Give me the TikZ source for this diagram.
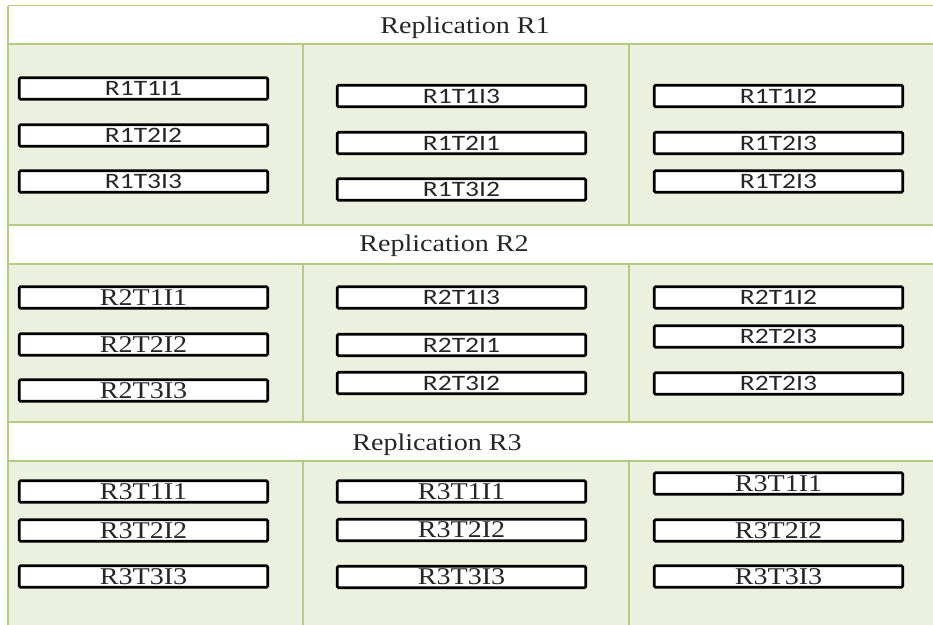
\documentclass[tikz,border=0pt]{standalone}
\usepackage{fontspec}
\usepackage{graphicx}
\newfontfamily\sansf{Carlito}
\newfontfamily\seriff{Liberation Serif}
\definecolor{gfill}{HTML}{EBF1DE}
\definecolor{gline}{HTML}{B3CC82}
\definecolor{txt}{HTML}{262626}
\tikzset{
  cell/.style={draw=black, line width=2.6pt, fill=white, minimum width=248.5pt,
    minimum height=21.5pt, inner sep=0pt, rounded corners=1.2pt, text=txt},
  sanscell/.style={cell, font=\sansf\fontsize{22}{24}\selectfont},
  serifcell/.style={cell, font=\seriff\fontsize{24}{26}\selectfont},
  header/.style={anchor=base, text=txt, inner sep=0pt, font=\seriff\fontsize{24}{26}\selectfont},
  gridline/.style={draw=gline, line width=1.6pt}
}
\newcommand{\sw}[1]{\scalebox{1.25}[1]{#1}}
\newcommand{\rw}[1]{\scalebox{1.17}[1]{#1}}
\begin{document}
\begin{tikzpicture}[x=1pt,y=-1pt]
\useasboundingbox (0,0) rectangle (933,624);
\clip (0,0) rectangle (933,624);
\fill[white] (0,0) rectangle (933,624);
% panels
\fill[gfill] (8,44) rectangle (940,225);
\fill[gfill] (8,264) rectangle (940,422);
\fill[gfill] (8,461) rectangle (940,630);
% grid lines
\draw[gridline] (8,5.5) -- (940,5.5);
\draw[gridline] (8,44) -- (940,44);
\draw[gridline] (8,225) -- (940,225);
\draw[gridline] (8,264) -- (940,264);
\draw[gridline] (8,422) -- (940,422);
\draw[gridline] (8,461) -- (940,461);
\draw[gridline] (8,5.5) -- (8,630);
\foreach \x in {302.7,629} {
  \draw[gridline] (\x,44) -- (\x,225);
  \draw[gridline] (\x,264) -- (\x,422);
  \draw[gridline] (\x,461) -- (\x,630);
}
% headers
\node[header] (h1) at (465,33) {\rw{Replication R1}};
\node[header] (h2) at (444,251.7) {\rw{Replication R2}};
\node[header] (h3) at (437,450) {\rw{Replication R3}};
% Replication R1
\node[sanscell] (a11) at (143.5,88.5) {\sw{R1T1I1}};
\node[sanscell] (a12) at (143.5,135.5) {\sw{R1T2I2}};
\node[sanscell] (a13) at (143.5,181.5) {\sw{R1T3I3}};
\node[sanscell] (a21) at (461.5,96) {\sw{R1T1I3}};
\node[sanscell] (a22) at (461.5,143) {\sw{R1T2I1}};
\node[sanscell] (a23) at (461.5,189.5) {\sw{R1T3I2}};
\node[sanscell] (a31) at (778.5,96) {\sw{R1T1I2}};
\node[sanscell] (a32) at (778.5,143) {\sw{R1T2I3}};
\node[sanscell] (a33) at (778.5,181.5) {\sw{R1T2I3}};
% Replication R2
\node[serifcell] (b11) at (143.5,297.5) {\rw{R2T1I1}};
\node[serifcell] (b12) at (143.5,344.5) {\rw{R2T2I2}};
\node[serifcell] (b13) at (143.5,390.5) {\rw{R2T3I3}};
\node[sanscell] (b21) at (461.5,297.5) {\sw{R2T1I3}};
\node[sanscell] (b22) at (461.5,345) {\sw{R2T2I1}};
\node[sanscell] (b23) at (461.5,383) {\sw{R2T3I2}};
\node[sanscell] (b31) at (778.5,297.5) {\sw{R2T1I2}};
\node[sanscell] (b32) at (778.5,336.5) {\sw{R2T2I3}};
\node[sanscell] (b33) at (778.5,383.5) {\sw{R2T2I3}};
% Replication R3
\node[serifcell] (c11) at (143.5,491.5) {\rw{R3T1I1}};
\node[serifcell] (c12) at (143.5,530.5) {\rw{R3T2I2}};
\node[serifcell] (c13) at (143.5,576.5) {\rw{R3T3I3}};
\node[serifcell] (c21) at (461.5,491.5) {\rw{R3T1I1}};
\node[serifcell] (c22) at (461.5,530) {\rw{R3T2I2}};
\node[serifcell] (c23) at (461.5,577) {\rw{R3T3I3}};
\node[serifcell] (c31) at (778.5,483.5) {\rw{R3T1I1}};
\node[serifcell] (c32) at (778.5,530.5) {\rw{R3T2I2}};
\node[serifcell] (c33) at (778.5,576.5) {\rw{R3T3I3}};
\end{tikzpicture}
\end{document}
